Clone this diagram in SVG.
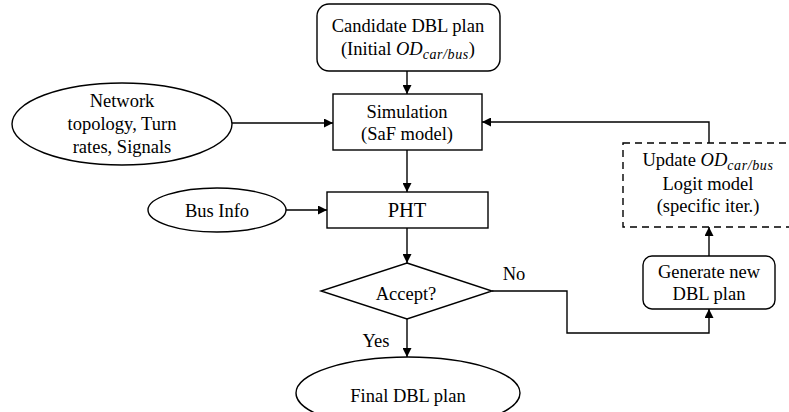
<svg xmlns="http://www.w3.org/2000/svg" width="789" height="412" viewBox="0 0 789 412">
<defs>
<marker id="ah" viewBox="0 0 10 10" refX="10" refY="5" markerWidth="9" markerHeight="9" markerUnits="userSpaceOnUse" orient="auto">
<path d="M0,0 L10,5 L0,10 Z" fill="#000"/>
</marker>
<style>
.n{fill:#fff;stroke:#000;stroke-width:1.4}
.d{fill:#fff;stroke:#000;stroke-width:1.4;stroke-dasharray:7,5}
.t{font-size:18.5px;fill:#000;text-anchor:middle}
.m{font-style:italic}
.s{font-style:italic;font-size:14px;letter-spacing:0.6px}
.c{fill:none;stroke:#000;stroke-width:1.4;marker-end:url(#ah)}
</style>
</defs>
<rect width="789" height="412" fill="#fff"/>
<g font-family="Liberation Serif, DejaVu Serif, serif">
<g id="candidate">
<rect class="n" x="317" y="4" width="183" height="67" rx="12"/>
<text class="t" x="408" y="32">Candidate DBL plan</text>
<text class="t" x="408" y="55">(Initial <tspan class="m">OD</tspan><tspan class="s" dy="4">car/bus</tspan><tspan dy="-4">)</tspan></text>
</g>
<g id="network">
<ellipse class="n" cx="122" cy="124" rx="110" ry="41"/>
<text class="t" x="122" y="107">Network</text>
<text class="t" x="122" y="130">topology, Turn</text>
<text class="t" x="122" y="153">rates, Signals</text>
</g>
<g id="simulation">
<rect class="n" x="333" y="94" width="149" height="56"/>
<text class="t" x="407" y="118">Simulation</text>
<text class="t" x="407" y="140">(SaF model)</text>
</g>
<g id="businfo">
<ellipse class="n" cx="217" cy="210" rx="69" ry="22"/>
<text class="t" x="217" y="217">Bus Info</text>
</g>
<g id="pht">
<rect class="n" x="327" y="192" width="161" height="36"/>
<text class="t" x="407" y="217" style="font-size:20.5px">PHT</text>
</g>
<g id="accept">
<polygon class="n" points="407,263 492,291 407,319 321,291"/>
<text class="t" x="406" y="300">Accept?</text>
</g>
<g id="final">
<ellipse class="n" cx="408" cy="393" rx="112" ry="36"/>
<text class="t" x="408" y="402">Final DBL plan</text>
</g>
<g id="update">
<rect class="d" x="623" y="143" width="175" height="84"/>
<text class="t" x="708" y="166">Update <tspan class="m">OD</tspan><tspan class="s" dy="4">car/bus</tspan></text>
<text class="t" x="708" y="190">Logit model</text>
<text class="t" x="708" y="212">(specific iter.)</text>
</g>
<g id="generate">
<rect class="n" x="643" y="256" width="132" height="53" rx="9"/>
<text class="t" x="709" y="278">Generate new</text>
<text class="t" x="709" y="300">DBL plan</text>
</g>
<g id="connectors">
<path class="c" d="M407,71 L407,94"/>
<path class="c" d="M232,123 L333,123"/>
<path class="c" d="M407,150 L407,192"/>
<path class="c" d="M286,210 L327,210"/>
<path class="c" d="M407,228 L407,263"/>
<path class="c" d="M407,319 L407,357"/>
<path class="c" d="M492,291 L567,291 L567,333 L709,333 L709,309"/>
<path class="c" d="M709,256 L709,227"/>
<path class="c" d="M709,143 L709,122 L482,122"/>
<text class="t" x="376" y="347">Yes</text>
<text class="t" x="514" y="280">No</text>
</g>
</g>
</svg>
